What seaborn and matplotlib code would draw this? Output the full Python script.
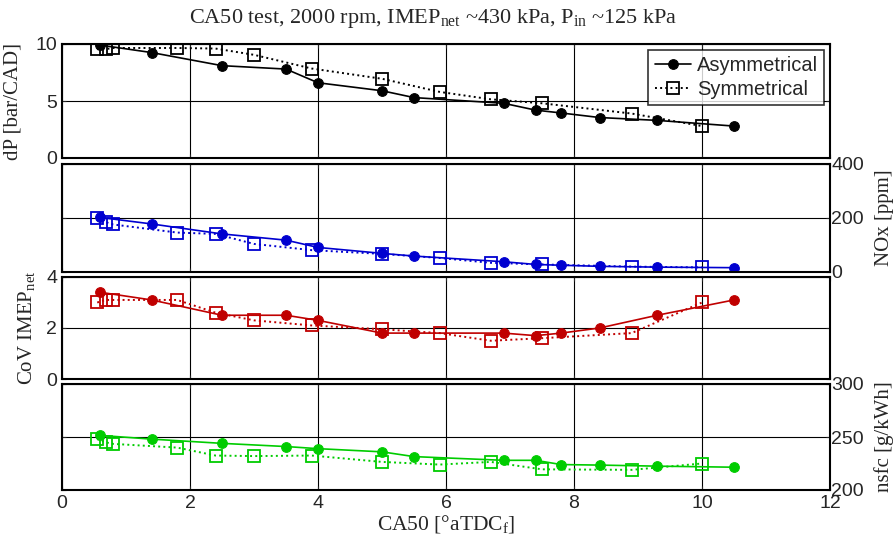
import numpy as np
import pandas as pd
import seaborn as sns
import matplotlib
matplotlib.use("Agg")
import matplotlib.pyplot as plt

# CA50 positions
ca50_asym = [0.6, 1.4, 2.5, 3.5, 4.0, 5.0, 5.5, 6.9, 7.4, 7.8, 8.4, 9.3, 10.5]
ca50_sym = [0.55, 0.68, 0.8, 1.8, 2.4, 3.0, 3.9, 5.0, 5.9, 6.7, 7.5, 8.9, 10.0]

# dP [bar/CAD]
dp_asym = [9.9, 9.25, 8.1, 7.8, 6.6, 5.9, 5.3, 4.8, 4.2, 3.95, 3.55, 3.3, 2.8]
dp_sym = [9.55, 9.55, 9.65, 9.65, 9.6, 9.05, 7.85, 6.95, 5.8, 5.15, 4.8, 3.9, 2.8]

# NOx [ppm]
nox_asym = [202, 178, 141, 118, 91, 69, 59, 38, 28, 25, 21, 18, 16]
nox_sym = [200, 185, 176, 146, 141, 104, 81, 67, 52, 34, 28, 20, 17]

# CoV IMEPnet
cov_asym = [3.4, 3.1, 2.5, 2.5, 2.3, 1.8, 1.8, 1.8, 1.7, 1.8, 2.0, 2.5, 3.1]
cov_sym = [3.0, 3.1, 3.1, 3.1, 2.6, 2.3, 2.1, 1.95, 1.8, 1.5, 1.6, 1.8, 3.0]

# nsfc [g/kWh]
nsfc_asym = [251.5, 248, 244, 241, 239, 236, 231.5, 228, 228, 224, 223.5, 222.5, 221.5]
nsfc_sym = [248, 245, 243.5, 240, 232.5, 232, 232.5, 226.5, 224, 226.5, 219.5, 219, 225]

sns.set_style("white")
plt.rcParams['font.family'] = ['Liberation Sans', 'DejaVu Sans']
plt.rcParams['mathtext.fontset'] = 'custom'
plt.rcParams['mathtext.rm'] = 'Liberation Serif'
plt.rcParams['mathtext.it'] = 'Liberation Serif'

serif = ['Liberation Serif', 'DejaVu Serif']

fig = plt.figure(figsize=(8.96, 5.47), dpi=100)

left = 62 / 896
width = 768 / 896
boxes = [(44, 158), (164, 272), (277, 379), (384, 490)]
axes = []
for top, bot in boxes:
    ax = fig.add_axes([left, 1 - bot / 547, width, (bot - top) / 547])
    axes.append(ax)

panels = [
    (dp_asym, dp_sym, 'black', (0, 10), [0, 5, 10], 'left', 'dP [bar/CAD]', -0.051),
    (nox_asym, nox_sym, '#0000d0', (0, 400), [0, 200, 400], 'right', 'NOx [ppm]', 1.058),
    (cov_asym, cov_sym, '#c00000', (0, 4), [0, 2, 4], 'left', 'CoV IMEP$_{\\mathrm{net}}$', -0.033),
    (nsfc_asym, nsfc_sym, '#00cc00', (200, 300), [200, 250, 300], 'right', 'nsfc [g/kWh]', 1.058),
]

for i, (ax, (ya, ys, col, ylim, yticks, side, lab, lx)) in enumerate(zip(axes, panels)):
    sns.lineplot(x=ca50_asym, y=ya, ax=ax, color=col, linestyle='-', lw=1.2,
                 marker='o', markersize=7, markeredgecolor=col, sort=False,
                 estimator=None, label='Asymmetrical')
    sns.lineplot(x=ca50_sym, y=ys, ax=ax, color=col, linestyle=':', lw=1.4,
                 marker='s', markersize=8, markerfacecolor='none',
                 markeredgecolor=col, markeredgewidth=1.3, sort=False,
                 estimator=None, label='Symmetrical')
    ax.set_xlim(0, 12)
    ax.set_ylim(*ylim)
    ax.set_xticks(range(0, 13, 2))
    ax.set_yticks(yticks)
    ax.grid(True, color='black', lw=0.8)
    for s in ax.spines.values():
        s.set_color('black')
        s.set_linewidth(1.5)
    ax.tick_params(axis='both', direction='in', length=3, labelsize=14,
                   top=True, right=True, left=True, bottom=True)
    if side == 'left':
        ax.tick_params(axis='y', labelleft=True, labelright=False)
    else:
        ax.tick_params(axis='y', labelleft=False, labelright=True, pad=1)
        ax.yaxis.set_label_position('right')
    ax.set_ylabel(lab, fontsize=15, family=serif)
    ax.yaxis.set_label_coords(lx, 0.5)
    if i < 3:
        ax.tick_params(axis='x', labelbottom=False)
    if i == 0:
        leg = ax.legend(loc='upper right', fontsize=14.5, frameon=True,
                        fancybox=False, edgecolor='black', borderpad=0.3,
                        handlelength=1.8, handletextpad=0.3, borderaxespad=0.3,
                        labelspacing=0.25)
        leg.get_frame().set_linewidth(1.2)
        leg.set_zorder(10)
    else:
        ax.get_legend().remove()

axes[3].set_xlabel('CA50 [°aTDC$_{\\mathrm{f}}$]', fontsize=15.5, family=serif, labelpad=1)

fig.text(433 / 896, 0.967,
         'CA50 test, 2000 rpm, IMEP$_{\\mathrm{net}}$ ~430 kPa, P$_{\\mathrm{in}}$ ~125 kPa',
         ha='center', va='center', fontsize=16, family=serif)

fig.savefig('out.png', dpi=100)
